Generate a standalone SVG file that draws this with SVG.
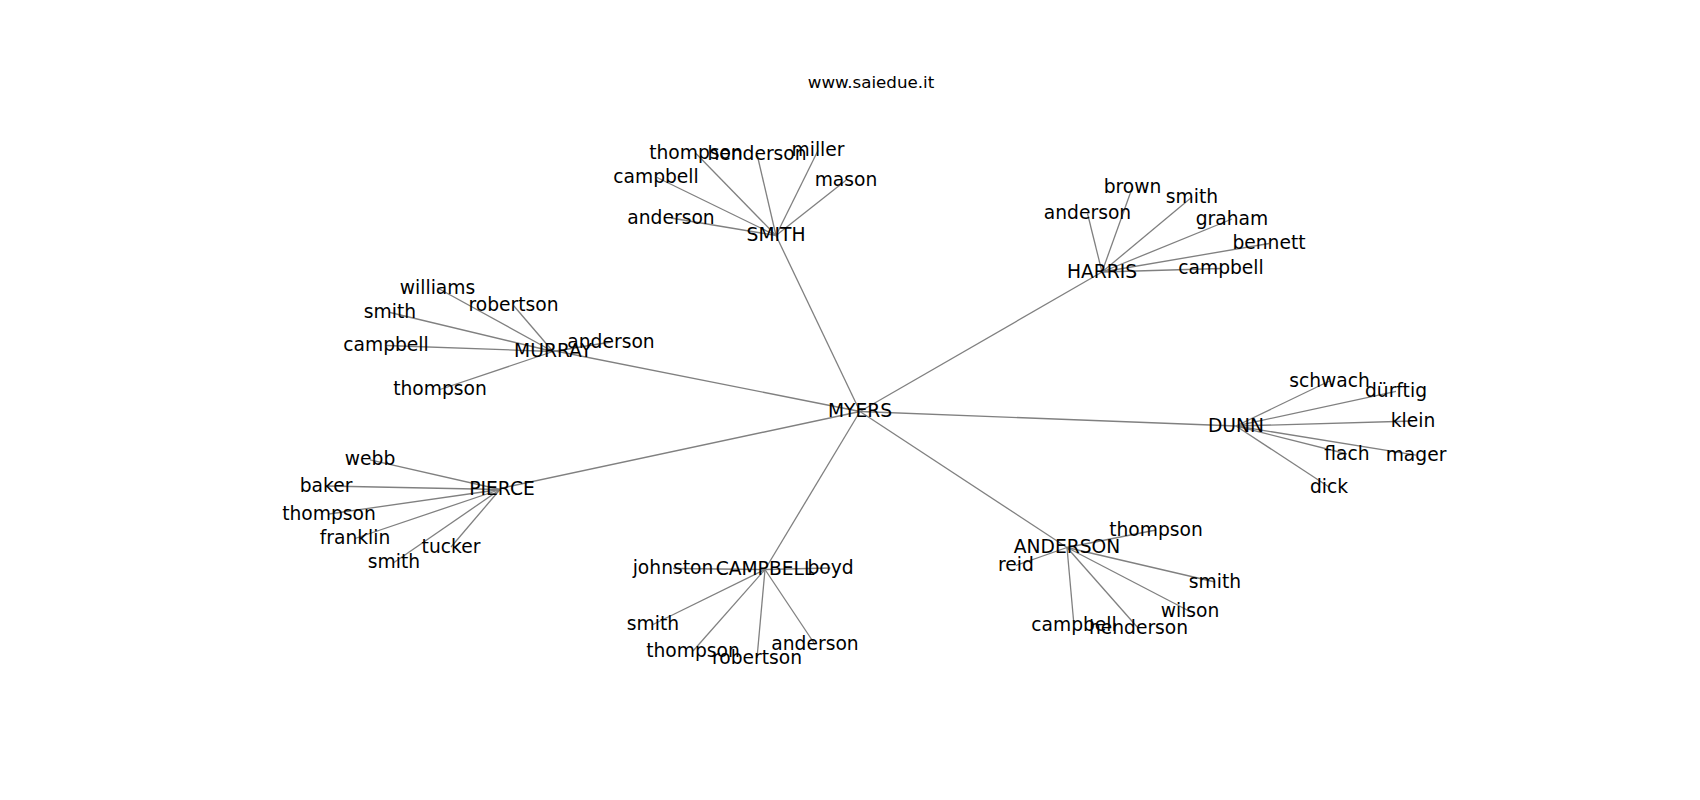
<svg xmlns="http://www.w3.org/2000/svg" width="1700" height="800" viewBox="0 0 1700 800">
<style>
.bg{fill:#ffffff}
.edges line{stroke:#808080;stroke-width:1.3;fill:none}
text{font-family:"DejaVu Sans","Liberation Sans",sans-serif;fill:#000000;text-anchor:middle}
.n{font-size:18.7px}
.title{font-size:16.7px}
</style>
<rect class="bg" x="0" y="0" width="1700" height="800"/>
<text class="title" x="871" y="88">www.saiedue.it</text>
<g id="connectors" class="edges">
<!-- hub -->
<line x1="860" y1="411.5" x2="776" y2="235.5"/>
<line x1="860" y1="411.5" x2="1102" y2="272"/>
<line x1="860" y1="411.5" x2="553" y2="350.5"/>
<line x1="860" y1="411.5" x2="1236" y2="426"/>
<line x1="860" y1="411.5" x2="500" y2="488.5"/>
<line x1="860" y1="411.5" x2="765" y2="569.5"/>
<line x1="860" y1="411.5" x2="1067" y2="547.5"/>
<!-- SMITH -->
<line x1="776" y1="235.5" x2="696" y2="153.5"/>
<line x1="776" y1="235.5" x2="757" y2="154"/>
<line x1="776" y1="235.5" x2="818" y2="150.5"/>
<line x1="776" y1="235.5" x2="846" y2="180.2"/>
<line x1="776" y1="235.5" x2="656" y2="177"/>
<line x1="776" y1="235.5" x2="671" y2="218"/>
<!-- HARRIS -->
<line x1="1102" y1="272" x2="1132.5" y2="187"/>
<line x1="1102" y1="272" x2="1087.5" y2="213.5"/>
<line x1="1102" y1="272" x2="1192" y2="197"/>
<line x1="1102" y1="272" x2="1232" y2="219"/>
<line x1="1102" y1="272" x2="1269" y2="243.5"/>
<line x1="1102" y1="272" x2="1221" y2="268.5"/>
<!-- MURRAY -->
<line x1="553" y1="351.5" x2="437.5" y2="288"/>
<line x1="553" y1="351.5" x2="513.5" y2="305.5"/>
<line x1="553" y1="351.5" x2="390" y2="312.5"/>
<line x1="553" y1="351.5" x2="386" y2="345.5"/>
<line x1="553" y1="351.5" x2="611" y2="342"/>
<line x1="553" y1="351.5" x2="440" y2="389.5"/>
<!-- DUNN -->
<line x1="1236" y1="426" x2="1329.5" y2="381"/>
<line x1="1236" y1="426" x2="1396" y2="391.3"/>
<line x1="1236" y1="426" x2="1413" y2="421"/>
<line x1="1236" y1="426" x2="1347" y2="454"/>
<line x1="1236" y1="426" x2="1416" y2="455.2"/>
<line x1="1236" y1="426" x2="1329" y2="487"/>
<!-- PIERCE -->
<line x1="500" y1="489.5" x2="370" y2="459.8"/>
<line x1="500" y1="489.5" x2="326" y2="486"/>
<line x1="500" y1="489.5" x2="329" y2="514"/>
<line x1="500" y1="489.5" x2="355" y2="538.5"/>
<line x1="500" y1="489.5" x2="451" y2="547"/>
<line x1="500" y1="489.5" x2="394" y2="562.5"/>
<!-- CAMPBELL -->
<line x1="765" y1="569.5" x2="673" y2="568.5"/>
<line x1="765" y1="569.5" x2="830.5" y2="568"/>
<line x1="765" y1="569.5" x2="653" y2="624.5"/>
<line x1="765" y1="569.5" x2="693" y2="651"/>
<line x1="765" y1="569.5" x2="757" y2="658"/>
<line x1="765" y1="569.5" x2="815" y2="644.5"/>
<!-- ANDERSON -->
<line x1="1067" y1="547.5" x2="1156" y2="530"/>
<line x1="1067" y1="547.5" x2="1016" y2="565.5"/>
<line x1="1067" y1="547.5" x2="1215" y2="582"/>
<line x1="1067" y1="547.5" x2="1190" y2="611.5"/>
<line x1="1067" y1="547.5" x2="1074" y2="625.5"/>
<line x1="1067" y1="547.5" x2="1138.5" y2="628.5"/>
</g>
<g id="myers"><text class="n" x="860" y="417">MYERS</text></g>
<g id="smith"><text class="n" x="776" y="241">SMITH</text></g>
<g id="smith-thompson"><text class="n" x="696" y="159">thompson</text></g>
<g id="smith-henderson"><text class="n" x="757" y="159.5">henderson</text></g>
<g id="smith-miller"><text class="n" x="818" y="156">miller</text></g>
<g id="smith-mason"><text class="n" x="846" y="185.7">mason</text></g>
<g id="smith-campbell"><text class="n" x="656" y="182.5">campbell</text></g>
<g id="smith-anderson"><text class="n" x="671" y="223.5">anderson</text></g>
<g id="harris"><text class="n" x="1102" y="277.5">HARRIS</text></g>
<g id="harris-brown"><text class="n" x="1132.5" y="192.5">brown</text></g>
<g id="harris-anderson"><text class="n" x="1087.5" y="219">anderson</text></g>
<g id="harris-smith"><text class="n" x="1192" y="202.5">smith</text></g>
<g id="harris-graham"><text class="n" x="1232" y="224.5">graham</text></g>
<g id="harris-bennett"><text class="n" x="1269" y="249">bennett</text></g>
<g id="harris-campbell"><text class="n" x="1221" y="274">campbell</text></g>
<g id="murray"><text class="n" x="553" y="357">MURRAY</text></g>
<g id="murray-williams"><text class="n" x="437.5" y="293.5">williams</text></g>
<g id="murray-robertson"><text class="n" x="513.5" y="311">robertson</text></g>
<g id="murray-smith"><text class="n" x="390" y="318">smith</text></g>
<g id="murray-campbell"><text class="n" x="386" y="351">campbell</text></g>
<g id="murray-anderson"><text class="n" x="611" y="347.5">anderson</text></g>
<g id="murray-thompson"><text class="n" x="440" y="395">thompson</text></g>
<g id="dunn"><text class="n" x="1236" y="431.5">DUNN</text></g>
<g id="dunn-schwach"><text class="n" x="1329.5" y="386.5">schwach</text></g>
<g id="dunn-durftig"><text class="n" x="1396" y="396.8">dürftig</text></g>
<g id="dunn-klein"><text class="n" x="1413" y="426.5">klein</text></g>
<g id="dunn-flach"><text class="n" x="1347" y="459.5">flach</text></g>
<g id="dunn-mager"><text class="n" x="1416" y="460.7">mager</text></g>
<g id="dunn-dick"><text class="n" x="1329" y="492.5">dick</text></g>
<g id="pierce"><text class="n" x="502" y="495">PIERCE</text></g>
<g id="pierce-webb"><text class="n" x="370" y="465.3">webb</text></g>
<g id="pierce-baker"><text class="n" x="326" y="491.5">baker</text></g>
<g id="pierce-thompson"><text class="n" x="329" y="519.5">thompson</text></g>
<g id="pierce-franklin"><text class="n" x="355" y="544">franklin</text></g>
<g id="pierce-tucker"><text class="n" x="451" y="552.5">tucker</text></g>
<g id="pierce-smith"><text class="n" x="394" y="568">smith</text></g>
<g id="campbell"><text class="n" x="765" y="575">CAMPBELL</text></g>
<g id="campbell-johnston"><text class="n" x="673" y="574">johnston</text></g>
<g id="campbell-boyd"><text class="n" x="830.5" y="573.5">boyd</text></g>
<g id="campbell-smith"><text class="n" x="653" y="630">smith</text></g>
<g id="campbell-thompson"><text class="n" x="693" y="656.5">thompson</text></g>
<g id="campbell-robertson"><text class="n" x="757" y="663.5">robertson</text></g>
<g id="campbell-anderson"><text class="n" x="815" y="650">anderson</text></g>
<g id="anderson"><text class="n" x="1067" y="553">ANDERSON</text></g>
<g id="anderson-thompson"><text class="n" x="1156" y="535.5">thompson</text></g>
<g id="anderson-reid"><text class="n" x="1016" y="571">reid</text></g>
<g id="anderson-smith"><text class="n" x="1215" y="587.5">smith</text></g>
<g id="anderson-wilson"><text class="n" x="1190" y="617">wilson</text></g>
<g id="anderson-campbell"><text class="n" x="1074" y="631">campbell</text></g>
<g id="anderson-henderson"><text class="n" x="1138.5" y="634">henderson</text></g>
</svg>
